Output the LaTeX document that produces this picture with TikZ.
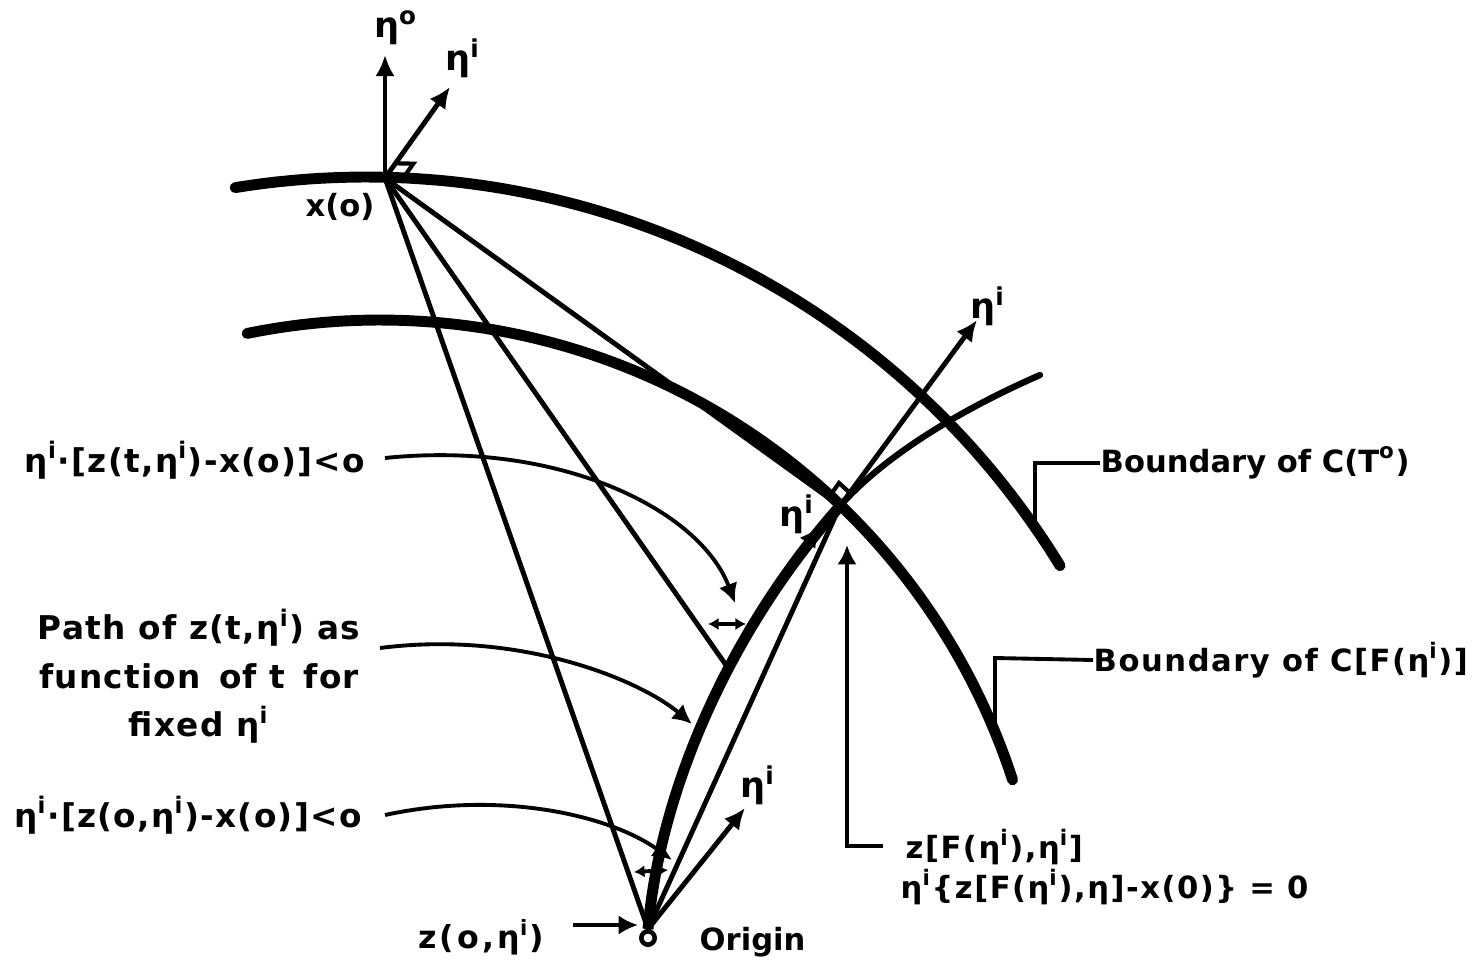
\documentclass[tikz,border=0pt]{standalone}
\usepackage{fontspec}
\setmainfont{DejaVu Sans}
\usetikzlibrary{arrows.meta}
\newcommand\myeta{η\textsuperscript{i}}
\tikzset{
  bnd/.style={line width=3.1pt, line cap=round},
  ray/.style={line width=1.4pt},
  arr/.style={line width=1.4pt,-{Latex[length=6pt,width=5.5pt]}},
  lead/.style={line width=1.1pt,-{Latex[length=5.5pt,width=5.5pt]}},
  plainlead/.style={line width=1.1pt},
  dbl/.style={line width=1.1pt,{Latex[length=3pt,width=3.5pt]}-{Latex[length=3pt,width=3.5pt]}},
  lbl/.style={font=\fontsize{8.7}{13.5}\selectfont\bfseries, inner sep=0pt},
  etalbl/.style={font=\fontsize{10}{12}\selectfont\bfseries, inner sep=0pt},
  widelbl/.style={font=\fontsize{9.3}{13.8}\selectfont\bfseries\addfontfeature{LetterSpace=4}, inner sep=0pt},
  eqlbl/.style={font=\fontsize{8.7}{13.5}\selectfont\bfseries\addfontfeature{LetterSpace=5}, inner sep=0pt},
  ramark/.style={line width=1.2pt},
}
\begin{document}
\begin{tikzpicture}[x=0.01cm,y=-0.01cm]
\useasboundingbox (0,0) rectangle (1474,967);
% key points
\coordinate (x0) at (385,178);
\coordinate (P) at (840,506);
\coordinate (Y) at (728,668);
\node[circle,draw,line width=1.3pt,minimum size=3.8pt,inner sep=0pt] (orig) at (648,938) {};
\coordinate (O) at (orig.north);
% boundaries
\draw[bnd] plot[domain=-99.25:-31.5,samples=90] ({366+814*cos(\x)},{991+814*sin(\x)});
\draw[bnd] plot[domain=-101.53:-17.97,samples=90] ({380+665*cos(\x)},{985+665*sin(\x)});
% path of z(t,eta)
\draw[line width=3.1pt] (O) .. controls (660,790) and (730,630) .. (P);
\draw[line width=1.8pt,line cap=round] (P) .. controls (884,456) and (960,410) .. (1040,375);
% rays
\draw[ray] (x0) -- (O);
\draw[ray] (x0) -- (Y);
\draw[ray] (x0) -- (P);
\draw[ray] (O) -- (P);
% eta arrows
\coordinate (e0) at (385,55);
\coordinate (e1) at (450,87);
\coordinate (e2) at (977,320);
\coordinate (e3) at (745,808);
\coordinate (e4a) at (797,558);
\coordinate (e4) at (820,526);
\draw[arr] (x0) -- (e0);
\draw[arr] (x0) -- (e1);
\draw[arr] (P) -- (e2);
\draw[arr] (O) -- (e3);
\draw[arr] (e4a) -- (e4);
\node[etalbl] (le0) at (396,28) {η\textsuperscript{o}};
\node[etalbl] (le1) at (463,58) {\myeta};
\node[etalbl] (le2) at (988,306) {\myeta};
\node[etalbl] (le3) at (758,785) {\myeta};
\node[etalbl] (le4) at (797,514) {\myeta};
% right-angle marks
\draw[ramark] (395.3,163.3) -- (413.3,163.7) -- (403,178.4);
\draw[ramark] (849.5,492.5) -- (839,483) -- (830.5,495);
\node[lbl] (lx0) at (340,207) {x(o)};
% leader curves from left labels
\node[widelbl] (L1) at (195,460) {\myeta·[z(t,\myeta)-x(o)]<o};
\node[widelbl,align=center] (L2) at (199,676) {Path of z(t,\myeta) as\\function\, of t\, for\\fixed \myeta};
\node[widelbl] (L3) at (188,815) {\myeta·[z(o,\myeta)-x(o)]<o};
\coordinate (s1) at (385,458);
\coordinate (s2) at (380,648);
\coordinate (s3) at (385,815);
\coordinate (t1) at (735,603);
\coordinate (t2) at (692,724);
\coordinate (t3) at (672,860);
\draw[lead] (s1) .. controls (560,440) and (700,510) .. (t1);
\draw[lead] (s2) .. controls (520,630) and (640,680) .. (t2);
\draw[lead] (s3) .. controls (500,790) and (610,815) .. (t3);
% small double arrows
\draw[dbl] (708,624) -- (746,624);
\draw[dbl] (634,872) -- (668,870);
% origin labels
\node[lbl,font=\fontsize{9}{12}\selectfont\bfseries\addfontfeature{LetterSpace=10}] (zl) at (481,937) {z(o,\myeta)};
\coordinate (za) at (573,925);
\coordinate (zb) at (638,925);
\draw[lead] (za) -- (zb);
\node[lbl,anchor=west] (orl) at (699,942) {Origin};
% boundary labels
\node[lbl,anchor=west] (bt) at (1100,463) {Boundary of C(T\textsuperscript{o})};
\node[eqlbl,anchor=west] (bc) at (1093,660) {Boundary of C[F(\myeta)]};
\draw[plainlead] (1035,523) -- (1035,463) -- (bt.west);
\draw[plainlead] (995,728) -- (995,658) -- (bc.west);
% bottom right
\node[eqlbl,anchor=west] (zf) at (905,847) {z[F(\myeta),\myeta]};
\node[eqlbl,anchor=west] (zg) at (900,887) {\myeta\{z[F(\myeta),η]-x(0)\} = 0};
\coordinate (bl) at (883,846);
\coordinate (br) at (847,846);
\coordinate (bu) at (847,545);
\draw[lead] (bl) -- (br) -- (bu);
\end{tikzpicture}
\end{document}
